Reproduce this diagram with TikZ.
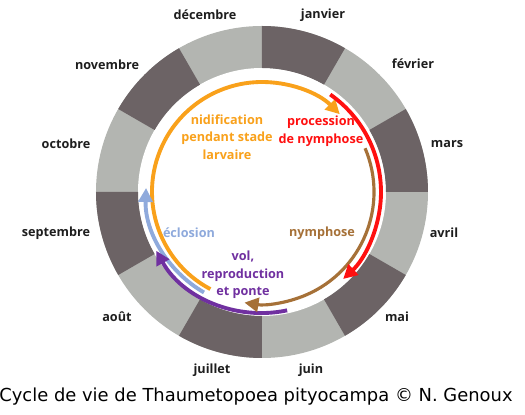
\documentclass[tikz,border=0pt]{standalone}
\usepackage{fontspec}
\setmainfont{Open Sans}
\newfontfamily\captionfont{DejaVu Sans}
\usepackage{tikz}
\usetikzlibrary{arrows.meta}

\definecolor{segdark}{HTML}{6C6365}
\definecolor{seglight}{HTML}{B3B5B1}
\definecolor{nidorange}{HTML}{F9A11B}
\definecolor{procred}{HTML}{FF1010}
\definecolor{nymbrown}{HTML}{A67138}
\definecolor{volpurple}{HTML}{7030A0}
\definecolor{eclblue}{HTML}{8FAADC}
\definecolor{monthgray}{HTML}{1E1E1E}

\begin{document}
\begin{tikzpicture}[
        x=0.02cm, y=0.02cm,
        font=\fontsize{7.2}{10}\selectfont\bfseries,
        >={Triangle[length=8pt, width=8pt]},
        month/.style={text=monthgray, inner sep=0pt},
        stage/.style={align=center, inner sep=0pt},
        phase/.style={->, line width=2.2pt},
    ]
        \def\rout{166} \def\rin{124}
        \useasboundingbox (-262,-223) rectangle (263,192);
        \fill[seglight] (0,0) circle[radius=\rout];
        \fill[white] (0,0) circle[radius=\rin];
        \foreach \a in {90,30,-30,-90,-150,-210} {
            \fill[segdark] (\a:\rout) arc[start angle=\a, end angle=\a-30, radius=\rout]
                -- (\a-30:\rin) arc[start angle=\a-30, end angle=\a, radius=\rin] -- cycle;
        }
        \foreach \x/\y/\name [count=\k] in {61/177/janvier, 151/128/février, 185/48/mars,
                182/-41/avril, 135/-125/mai, 49/-178/juin, -50/-178/juillet, -145/-125/août,
                -206/-41/septembre, -196/48/octobre, -155/127/novembre, -57/177/décembre} {
            \node[month] (m\k) at (\x,\y) {\name};
        }
        \coordinate (nidA) at (242:110);
        \coordinate (eclA) at (240:116);
        \coordinate (volA) at (-78:121);
        \coordinate (nymA) at (23:112);
        \coordinate (procA) at (55:119);
        \draw[phase, nidorange] (nidA) arc[start angle=242, end angle=45, radius=110];
        \draw[phase, eclblue] (eclA) arc[start angle=240, end angle=178, radius=116];
        \draw[phase, volpurple] (volA) arc[start angle=-78, end angle=-151, radius=121];
        \draw[phase, nymbrown, line width=1.8pt] (nymA) arc[start angle=23, end angle=-99, radius=112];
        \draw[phase, procred] (procA) arc[start angle=55, end angle=-47, radius=119];
        \node[stage, text=nidorange] (nid) at (-35,55) {nidification\\pendant stade\\larvaire};
        \node[stage, text=procred] (proc) at (59,61) {procession\\de nymphose};
        \node[stage, text=nymbrown] (nym) at (60,-41) {nymphose};
        \node[stage, text=eclblue] (ecl) at (-73,-41) {éclosion};
        \node[stage, text=volpurple] (vol) at (-19,-83) {vol,\\reproduction\\et ponte};
        \node[font=\captionfont\fontsize{10.2}{12}\selectfont, inner sep=0pt] (cap) at (-6,-205)
            {Cycle de vie de Thaumetopoea pityocampa © N. Genoux};
    \end{tikzpicture}
\end{document}
